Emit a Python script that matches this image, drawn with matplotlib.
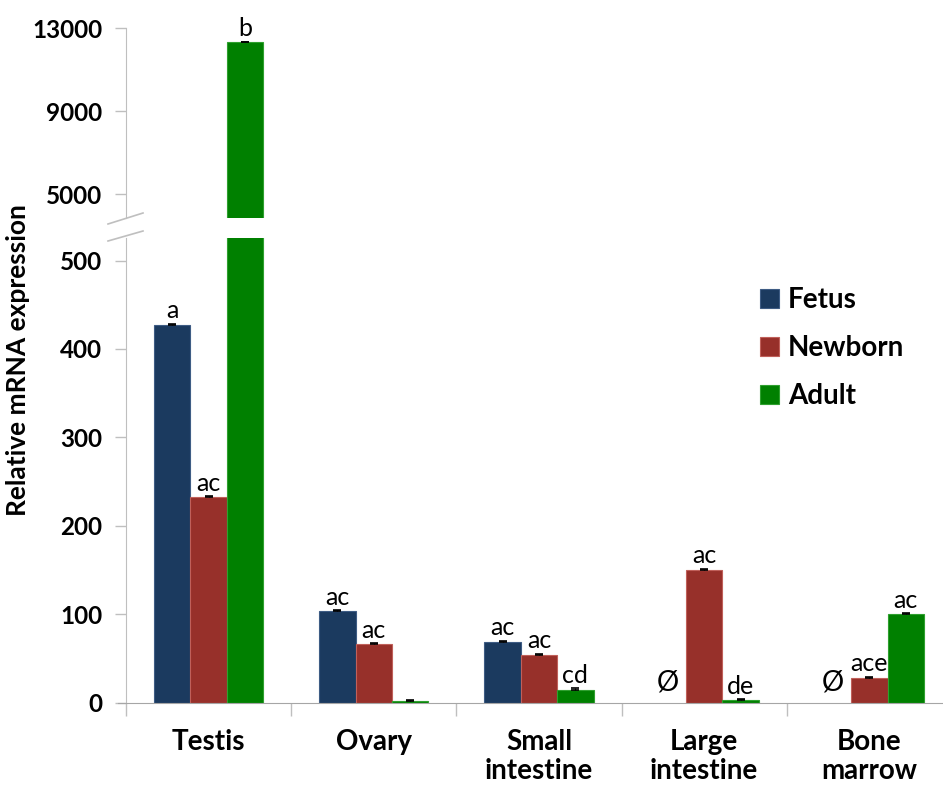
import matplotlib
matplotlib.use("Agg")
import matplotlib.pyplot as plt
from matplotlib.lines import Line2D
import numpy as np

# ---- data -------------------------------------------------------------
tissues = ["Testis", "Ovary", "Small\nintestine", "Large\nintestine", "Bone\nmarrow"]
stages = ["Fetus", "Newborn", "Adult"]
fetus = [427, 103, 69, np.nan, np.nan]
newborn = [232, 66, 54, 150, 28]
adult = [12330, 1.5, 14, 2.5, 100]
fetus_err = [1.5, 1.2, 1.0, 0, 0]
newborn_err = [1.5, 1.0, 1.0, 1.2, 1.0]
adult_err = [20, 1.0, 2.0, 1.0, 1.0]
fetus_sig = ["a", "ac", "ac", "Ø", "Ø"]
newborn_sig = ["ac", "ac", "ac", "ac", "ace"]
adult_sig = ["b", "", "cd", "de", "ac"]

colors = ["#1B3A5F", "#97302A", "#008000"]
edges = ["#3E5C84", "#C0605A", "#2FA02F"]
axis_grey = "#BFBFBF"

FONT = "Lato"
plt.rcParams["font.family"] = [FONT, "DejaVu Sans"]

W, H = 943, 787
fig = plt.figure(figsize=(W / 100, H / 100), dpi=100)


def fx(x):
    return x / W


def fy(y):
    return 1 - y / H


left, right = 126, 952
ax = fig.add_axes([fx(left), fy(702.5), fx(right - left), fy(238) - fy(702.5)])
axt = fig.add_axes([fx(left), fy(218), fx(right - left), fy(28) - fy(218)])

x = np.arange(len(tissues))
bw = 0.22
series = [(fetus, fetus_err, fetus_sig), (newborn, newborn_err, newborn_sig),
          (adult, adult_err, adult_sig)]

for a in (ax, axt):
    for i, (vals, errs, _) in enumerate(series):
        pos = x + (i - 1) * bw
        v = np.array(vals, dtype=float)
        a.bar(pos, v, width=bw, color=colors[i], edgecolor=edges[i], linewidth=0.8,
              label=stages[i], zorder=2)
        a.errorbar(pos, v, yerr=[np.zeros_like(v), np.array(errs, dtype=float)],
                   fmt="none", ecolor="black", elinewidth=0.8, capsize=2.8,
                   capthick=1.2, zorder=3)

ax.set_xlim(-0.5, 4.5)
axt.set_xlim(-0.5, 4.5)
ax.set_ylim(0, 525.5)
axt.set_ylim(3870, 13000)

# significance letters
for i, (vals, errs, sigs) in enumerate(series):
    for j, s in enumerate(sigs):
        if not s:
            continue
        xp = x[j] + (i - 1) * bw
        v = vals[j]
        if s == "Ø":
            ax.annotate(s, (xp, 0), xytext=(0, 5), textcoords="offset points",
                        ha="center", va="bottom", fontsize=20)
            continue
        target = axt if v > 525 else ax
        target.annotate(s, (xp, v + errs[j]), xytext=(0, 1), textcoords="offset points",
                        ha="center", va="bottom", fontsize=18, annotation_clip=False)

# lower axis styling
ax.set_yticks([0, 100, 200, 300, 400, 500])
ax.set_xticks(np.arange(-0.5, 5, 1))
ax.set_xticklabels([])
ax.set_xticks(x, minor=True)
ax.set_xticklabels(tissues, minor=True, fontsize=20, fontweight="bold",
                   linespacing=1.15)
ax.tick_params(axis="x", which="minor", length=0, pad=19)
ax.tick_params(axis="x", which="major", length=9, color=axis_grey, width=1)
ax.tick_params(axis="y", length=8, color=axis_grey, width=1, labelsize=17.5, pad=9)
for lab in ax.get_yticklabels():
    lab.set_fontweight("bold")
for sp in ("top", "right"):
    ax.spines[sp].set_visible(False)
ax.spines["left"].set_color(axis_grey)
ax.spines["bottom"].set_color("#A6A6A6")
ax.spines["bottom"].set_bounds(-0.55, 4.5)

# upper axis styling
axt.set_yticks([5000, 9000, 13000])
axt.set_xticks([])
axt.tick_params(axis="y", length=8, color=axis_grey, width=1, labelsize=17.5, pad=9)
for lab in axt.get_yticklabels():
    lab.set_fontweight("bold")
for sp in ("top", "right", "bottom"):
    axt.spines[sp].set_visible(False)
axt.spines["left"].set_color(axis_grey)
axt.patch.set_alpha(0)

# axis break marks
for y0, y1 in ((224, 213), (241, 231)):
    fig.add_artist(Line2D([fx(108), fx(143)], [fy(y0), fy(y1)], color=axis_grey,
                          linewidth=1.2))

fig.text(fx(18), fy(360), "Relative mRNA expression", rotation=90, fontsize=19,
         fontweight="bold", ha="center", va="center")

leg = fig.legend(*ax.get_legend_handles_labels(), loc="upper left",
                 bbox_to_anchor=(fx(735), fy(262)), frameon=False,
                 handlelength=0.7, handleheight=0.7, handletextpad=0.3,
                 labelspacing=0.8, prop={"family": [FONT, "DejaVu Sans"],
                                         "weight": "bold", "size": 20})

fig.savefig("out.png", dpi=100)
